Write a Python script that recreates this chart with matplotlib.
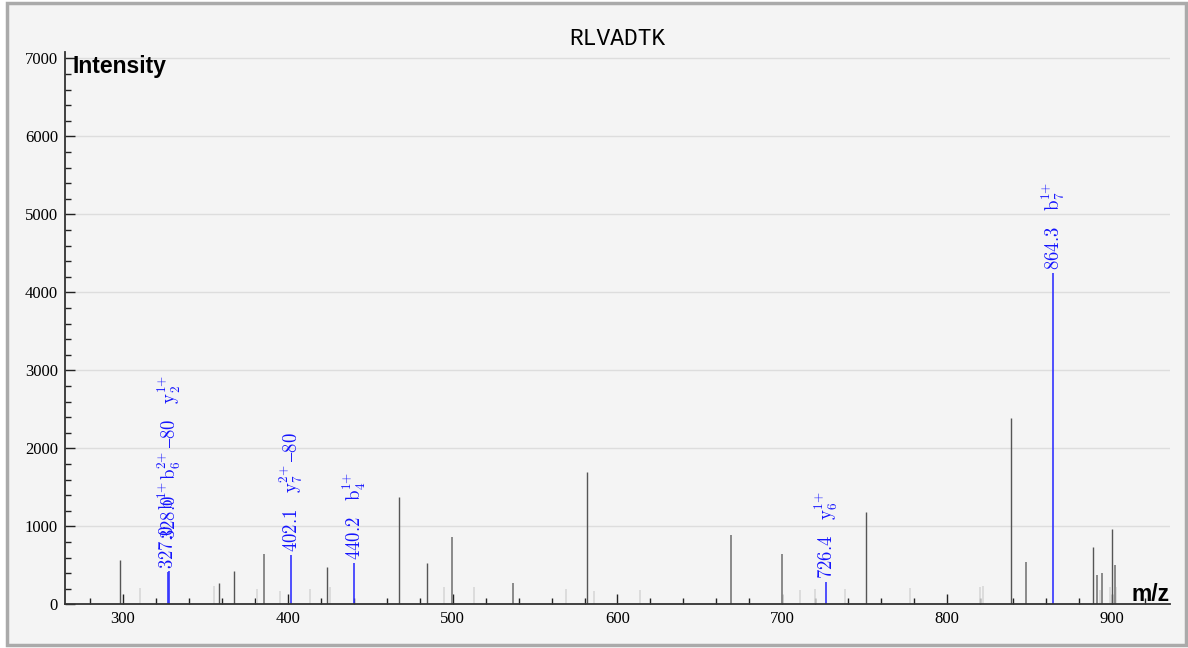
import matplotlib
matplotlib.use("Agg")
import matplotlib.pyplot as plt
from matplotlib.patches import Rectangle
from matplotlib.ticker import MultipleLocator

plt.rcParams['mathtext.fontset'] = 'cm'
plt.rcParams['font.family'] = ['Liberation Serif', 'DejaVu Serif']

title = "RLVADTK"

# unannotated peaks (m/z, intensity)
dark_mz = [298.2, 358.4, 367.5, 423.5, 467.6, 484.6, 581.7, 750.8, 838.9, 888.7, 899.8]
dark_int = [568, 269, 431, 478, 1378, 528, 1692, 1179, 2385, 731, 969]
mid_mz = [385.5, 499.4, 536.6, 668.9, 699.6, 847.6, 890.7, 893.7, 901.8]
mid_int = [641, 859, 269, 888, 641, 546, 372, 401, 504]
light_mz = [310.3, 355.4, 381.3, 395.5, 413.4, 425.6, 494.6, 512.8, 568.8, 586.0,
            613.5, 710.5, 719.6, 737.8, 777.6, 819.7, 821.7, 892.5, 898.6, 902.6]
light_int = [205, 235, 192, 170, 196, 226, 218, 218, 196, 170,
             183, 183, 200, 196, 205, 218, 235, 184, 218, 218]

# annotated peaks
ann_mz = [327.0, 328.0, 402.1, 440.2, 726.4, 864.3]
ann_int = [420, 428, 632, 525, 290, 4244]
ann_label = [r"$\mathrm{327.0}\quad\mathrm{b}^{1{+}}$",
             r"$\mathrm{328.0}\quad\mathrm{b}_6^{2{+}}\,–80\quad\mathrm{y}_2^{1{+}}$",
             r"$\mathrm{402.1}\quad\mathrm{y}_7^{2{+}}\,–80$",
             r"$\mathrm{440.2}\quad\mathrm{b}_4^{1{+}}$",
             r"$\mathrm{726.4}\quad\mathrm{y}_6^{1{+}}$",
             r"$\mathrm{864.3}\quad\mathrm{b}_7^{1{+}}$"]
ann_lift = [3, 32, 3, 3, 3, 3]

W, H = 1188, 648
fig = plt.figure(figsize=(W / 100, H / 100), dpi=100)
fig.patch.set_facecolor("white")
fig.patches.append(Rectangle((7 / W, 3 / H), 1179 / W, 642 / H, transform=fig.transFigure,
                             facecolor="#f4f4f4", edgecolor="#aaaaaa", linewidth=2.5, zorder=-10))

ax = fig.add_axes([65 / W, 1 - 604.3 / H, (1170 - 65) / W, (604.3 - 51.7) / H])
ax.patch.set_alpha(0)
ax.set_xlim(264.8, 935.2)
ax.set_ylim(0, 7085)

for s in ["top", "right"]:
    ax.spines[s].set_visible(False)
for s in ["left", "bottom"]:
    ax.spines[s].set_color("#333333")
    ax.spines[s].set_linewidth(1.3)

ax.yaxis.set_major_locator(MultipleLocator(1000))
ax.yaxis.set_minor_locator(MultipleLocator(200))
ax.xaxis.set_major_locator(MultipleLocator(100))
ax.xaxis.set_minor_locator(MultipleLocator(20))
ax.tick_params(axis="both", which="major", direction="in", length=7.2, width=1.0, color="#222222",
               labelsize=12, pad=5)
ax.tick_params(axis="both", which="minor", direction="in", length=4.3, width=1.0, color="#222222")
ax.grid(axis="y", which="major", color="#dddddd", linewidth=1)
ax.set_axisbelow(True)

ax.vlines(light_mz, 0, light_int, color="#d8d8d8", linewidth=1.2)
ax.vlines(dark_mz, 0, dark_int, color="#555555", linewidth=1.0)
ax.vlines(mid_mz, 0, mid_int, color="#8a8a8a", linewidth=1.4)
ax.vlines(ann_mz, 0, ann_int, color="#3333ff", linewidth=1.2)

for x, y, t, d in zip(ann_mz, ann_int, ann_label, ann_lift):
    ax.annotate(t, (x, y), xytext=(0, d), textcoords="offset pixels", rotation=90,
                ha="center", va="bottom", color="#1414ff", fontsize=13.5)

ax.set_title(title, family="Liberation Mono", fontsize=16.5, pad=5)
fig.text(72 / W, 1 - 67 / H, "Intensity", family="Liberation Sans", weight="bold",
         fontsize=16.5, va="center", ha="left")
fig.text(1170 / W, 1 - 601 / H, "m/z", family="Liberation Sans", weight="bold",
         fontsize=16.5, va="baseline", ha="right")

fig.savefig("out.png", dpi=100, facecolor="white")
